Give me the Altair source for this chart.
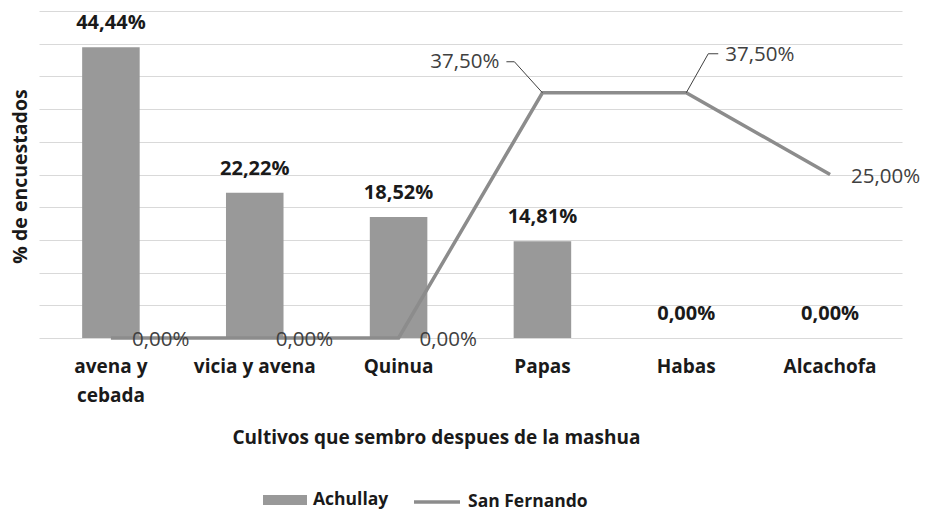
import altair as alt
import pandas as pd

categories = ["avena y cebada", "vicia y avena", "Quinua", "Papas", "Habas", "Alcachofa"]
achullay = [44.44, 22.22, 18.52, 14.81, 0.0, 0.0]
san_fernando = [0.0, 0.0, 0.0, 37.50, 37.50, 25.00]
series_names = ["Achullay", "San Fernando"]

FONT = "Open Sans"
BAR_COL = "#999999"
LINE_COL = "#8c8c8c"
DARK = "#1a1a1a"
LBL = "#404040"

bars_df = pd.DataFrame({"cat": categories, "value": achullay, "serie": series_names[0]})
line_df = pd.DataFrame({"cat": categories, "value": san_fernando, "serie": series_names[1]})

x_enc = alt.X(
    "cat:N",
    sort=categories,
    scale=alt.Scale(paddingInner=0.6, paddingOuter=0.3),
    axis=alt.Axis(
        title="Cultivos que sembro despues de la mashua",
        titleFont=FONT, titleFontSize=19, titleFontWeight="bold", titleColor=DARK,
        titleX=397, titleY=99, titleBaseline="middle", titleAlign="center",
        labelFont=FONT, labelFontSize=19, labelFontWeight="bold", labelColor=DARK,
        labelAngle=0, labelPadding=19, labelLineHeight=29, labelBaseline="top",
        labelExpr="datum.label == 'avena y cebada' ? ['avena y', 'cebada'] : datum.label",
        domain=False, ticks=False, grid=False,
    ),
)
y_enc = alt.Y(
    "value:Q",
    scale=alt.Scale(domain=[0, 50], nice=False),
    axis=alt.Axis(
        title="% de encuestados",
        titleFont=FONT, titleFontSize=19.5, titleFontWeight="bold", titleColor=DARK,
        titleX=-19, titleY=165, titleBaseline="middle", titleAngle=270, titleAlign="center",
        labels=False, ticks=False, domain=False,
        grid=True, gridColor="#d9d9d9", gridWidth=1,
        values=[0, 5, 10, 15, 20, 25, 30, 35, 40, 45, 50],
    ),
)

legend_common = dict(
    orient="none", direction="horizontal", title=None,
    labelFont=FONT, labelFontSize=17.5, labelFontWeight="bold",
    labelColor=DARK, labelOffset=6, padding=0,
)

bar_color = alt.Color(
    "serie:N",
    scale=alt.Scale(domain=[series_names[0]], range=[BAR_COL]),
    legend=alt.Legend(
        legendX=224, legendY=467, symbolType="M-1,-0.23H1V0.23H-1Z", symbolSize=1936,
        symbolStrokeWidth=0, symbolOpacity=1, **legend_common,
    ),
)
line_stroke = alt.Stroke(
    "serie:N",
    scale=alt.Scale(domain=[series_names[1]], range=[LINE_COL]),
    legend=alt.Legend(
        legendX=373, legendY=466, symbolType="stroke", symbolSize=2116,
        symbolStrokeWidth=3.5, **legend_common,
    ),
)

label_calc = "replace(format(datum.value / 100, '.2%'), '.', ',')"

bars = alt.Chart(bars_df).mark_bar(opacity=1).encode(x=x_enc, y=y_enc, color=bar_color)

bar_labels = alt.Chart(bars_df).transform_calculate(lbl=label_calc).mark_text(
    font=FONT, fontSize=20, fontWeight="bold", color=DARK, dy=-24, baseline="middle"
).encode(x=x_enc, y=y_enc, text="lbl:N")

line = alt.Chart(line_df).mark_line(strokeWidth=3.5, strokeCap="butt").encode(
    x=x_enc, y=y_enc, stroke=line_stroke
)

line_base = alt.Chart(line_df).transform_calculate(lbl=label_calc)
pos = dict(x=x_enc, y=y_enc, text="lbl:N")

right_labels = line_base.transform_filter(
    "datum.cat != 'Papas' && datum.cat != 'Habas'"
).mark_text(font=FONT, fontSize=20.5, color=LBL, align="left", baseline="middle", dx=21, dy=2).encode(**pos)

papas_label = line_base.transform_filter("datum.cat == 'Papas'").mark_text(
    font=FONT, fontSize=20.5, color=LBL, align="right", baseline="middle", dx=-43, dy=-31
).encode(**pos)

habas_label = line_base.transform_filter("datum.cat == 'Habas'").mark_text(
    font=FONT, fontSize=20.5, color=LBL, align="left", baseline="middle", dx=39, dy=-38
).encode(**pos)

rule_pos = dict(x=x_enc, x2=alt.X2("cat"), y=y_enc, y2=alt.Y2("value"))
papas_lead1 = line_base.transform_filter("datum.cat == 'Papas'").mark_rule(
    color=LBL, strokeWidth=1, xOffset=0, yOffset=0, x2Offset=-28, y2Offset=-31
).encode(**rule_pos)
papas_lead2 = line_base.transform_filter("datum.cat == 'Papas'").mark_rule(
    color=LBL, strokeWidth=1, xOffset=-28, yOffset=-31, x2Offset=-36, y2Offset=-31
).encode(**rule_pos)
habas_lead1 = line_base.transform_filter("datum.cat == 'Habas'").mark_rule(
    color=LBL, strokeWidth=1, xOffset=0, yOffset=0, x2Offset=22, y2Offset=-39
).encode(**rule_pos)
habas_lead2 = line_base.transform_filter("datum.cat == 'Habas'").mark_rule(
    color=LBL, strokeWidth=1, xOffset=22, yOffset=-39, x2Offset=32, y2Offset=-39
).encode(**rule_pos)

chart = alt.layer(
    bars, line, papas_lead1, papas_lead2, habas_lead1, habas_lead2,
    bar_labels, right_labels, papas_label, habas_label,
).resolve_scale(color="independent", stroke="independent").properties(
    width=863, height=327,
    background="white",
    autosize=alt.AutoSizeParams(type="none"),
    padding={"left": 39, "top": 11, "right": 24, "bottom": 175},
).configure_view(stroke=None)

chart.save("out.html", embed_options={"renderer": "svg", "actions": False})
